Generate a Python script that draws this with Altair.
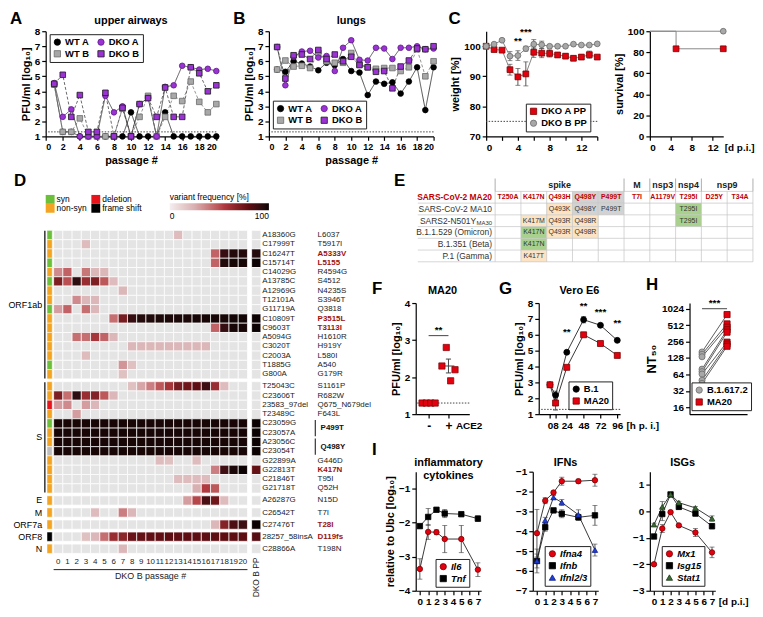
import altair as alt
import pandas as pd

FONT = "Liberation Sans"
PURPLE = "#9a32d4"
PURPLE_DK = "#5c1a85"
RED = "#e3000f"
RED_DK = "#7a0000"
GREY = "#a8a8a8"
GREY_DK = "#6b6b6b"
LOD = 1.3

# ---------------- A: upper airways ----------------
passage = list(range(1, 21))
ua_wt_a = [4.45, 1.3, 1.3, 1.0, 1.0, 1.0, 1.0, 1.0, 1.0, 2.6, 1.0, 1.0, 1.0, 2.6, 1.0, 1.0, 1.0, 1.0, 1.0, 1.0]
ua_wt_b = [4.45, 1.3, 1.3, 2.2, 1.0, 1.0, 1.0, 1.0, 2.85, 1.0, 2.3, 3.7, 1.0, 2.3, 3.7, 3.35, 4.65, 3.3, 2.6, 3.15]
ua_dko_a = [4.55, 2.3, 2.8, 1.0, 1.0, 1.0, 3.7, 2.6, 3.0, 1.0, 3.15, 3.55, 1.0, 4.3, 4.4, 5.7, 5.6, 5.45, 5.5, 5.35]
ua_dko_b = [4.5, 5.1, 2.3, 3.75, 1.3, 1.3, 3.9, 1.0, 2.9, 1.0, 3.15, 3.55, 2.3, 4.25, 2.3, 2.3, 5.6, 5.2, 4.0, 4.4]

# ---------------- B: lungs ----------------
lu_wt_a = [5.45, 5.3, 6.0, 5.85, 5.65, 5.4, 5.9, 5.75, 6.15, 5.35, 5.25, 3.75, 4.65, 4.5, 4.6, 3.85, 4.65, 5.6, 2.75, 5.6]
lu_wt_b = [5.45, 6.05, 5.65, 5.7, 5.55, 6.55, 6.0, 5.9, 5.9, 6.55, 5.8, 5.6, 5.5, 5.55, 5.55, 5.35, 5.6, 6.8, 5.0, 6.0]
lu_dko_a = [6.95, 4.4, 6.3, 6.65, 6.7, 6.25, 6.35, 5.35, 6.9, 7.4, 6.1, 6.05, 6.9, 6.85, 6.15, 6.9, 6.9, 7.0, 6.8, 6.85]
lu_dko_b = [6.95, 4.85, 6.4, 6.45, 6.15, 6.75, 6.15, 6.45, 6.0, 6.3, 5.75, 5.6, 5.3, 5.35, 4.2, 5.65, 6.05, 6.85, 6.8, 7.0]
pass_names = ["WT A", "WT B", "DKO A", "DKO B"]
pass_fill = ["#000000", GREY, PURPLE, PURPLE]
pass_stroke = ["#000000", GREY_DK, PURPLE_DK, "#1a1a1a"]
pass_shape = ["circle", "square", "circle", "square"]
pass_line = ["#222222", "#7a7a7a", "#333333", "#444444"]
pass_dash = [[1, 0], [3, 2], [1, 0], [3, 2]]

# ---------------- C: weight / survival ----------------
wt_days = list(range(0, 15))
w_dko_a = [100, 98.9, 98.7, 92.2, 89.8, 90.8, 98.0, 97.7, 97.6, 97.1, 96.7, 96.0, 96.4, 97.2, 96.4]
w_dko_a_sem = [0, 0.5, 0.5, 1.8, 2.8, 4.0, 1.7, 1.5, 1.2, 0.8, 0.8, 0.8, 0.8, 1.2, 0.6]
w_dko_b = [100, 100.7, 102.0, 96.7, 96.9, 99.2, 100.7, 100.5, 100.0, 100.0, 100.0, 100.7, 100.4, 100.4, 100.8]
w_dko_b_sem = [0, 0.4, 0.4, 1.5, 1.6, 0.8, 1.5, 1.2, 0.6, 0.6, 0.5, 0.5, 0.5, 0.5, 0.5]
w_names = ["DKO A PP", "DKO B PP"]
w_sig_day = [4, 5]
w_sig_text = ["**", "***"]
w_sig_y = [100.2, 103.0]
weight_limit = 75
surv_day_a = [0, 5, 14]
surv_a = [100, 83.3, 83.3]
surv_day_b = [0, 14]
surv_b = [100, 100]

# ---------------- D: heatmap ----------------
hm_gene = ["ORF1ab"] * 16 + ["S"] * 12 + ["E", "M", "ORF7a", "ORF8", "N"]
hm_nt = ["A18360G", "C17999T", "C16247T", "C15714T", "C14029G", "A13785C", "A12969G", "T12101A",
         "G11719A", "C10809T", "C9603T", "A5094G", "C3020T", "C2003A", "T1885G", "G800A",
         "T25043C", "C23606T", "23583_97del", "T23489C", "C23059G", "C23057A", "A23056C", "C23054T",
         "G22899A", "G22813T", "C21846T", "G21718T",
         "A26287G", "C26542T", "C27476T", "28257_58insA", "C28866A"]
hm_aa = ["L6037", "T5917I", "A5333V", "L5155", "R4594G", "S4512", "N4235S", "S3946T",
         "Q3818", "P3515L", "T3113I", "H1610R", "H919Y", "L580I", "A540", "G179R",
         "S1161P", "R682W", "Q675_N679del", "F643L", "P499T", "", "Q498Y", "",
         "G446D", "K417N", "T95I", "Q52H",
         "N15D", "T7I", "T28I", "D119fs", "T198N"]
hm_type = ["syn", "non-syn", "non-syn", "syn", "non-syn", "syn", "non-syn", "non-syn",
           "syn", "non-syn", "non-syn", "non-syn", "non-syn", "non-syn", "syn", "non-syn",
           "non-syn", "non-syn", "deletion", "non-syn", "syn", "non-syn", "non-syn", "other",
           "non-syn", "non-syn", "non-syn", "non-syn",
           "non-syn", "non-syn", "non-syn", "frame shift", "non-syn"]
hm_style = ["", "", "red", "red", "", "", "", "", "", "red", "red", "", "", "", "", "",
            "", "", "", "", "pair", "", "pair", "", "", "red", "", "",
            "", "", "red", "red", ""]
# 21 passages (0..20) + DKO B PP
hm_freq = [
    [0, 0, 0, 0, 0, 0, 0, 0, 0, 0, 0, 0, 0, 20, 0, 0, 0, 0, 0, 0, 0, 0],
    [0, 0, 0, 20, 0, 0, 0, 0, 0, 0, 0, 0, 0, 0, 0, 0, 0, 0, 0, 0, 0, 0],
    [0, 0, 0, 0, 0, 0, 0, 0, 0, 0, 0, 0, 0, 0, 0, 0, 0, 45, 90, 95, 95, 95],
    [0, 0, 0, 0, 0, 0, 0, 0, 0, 0, 0, 0, 0, 0, 0, 0, 0, 45, 95, 98, 98, 100],
    [35, 45, 0, 40, 22, 22, 0, 0, 0, 0, 0, 0, 0, 0, 0, 0, 0, 0, 0, 0, 0, 0],
    [70, 50, 92, 62, 70, 48, 20, 0, 0, 0, 0, 0, 0, 0, 0, 0, 0, 0, 0, 0, 0, 0],
    [0, 0, 0, 0, 0, 0, 0, 22, 0, 0, 0, 0, 0, 0, 0, 0, 0, 0, 0, 0, 0, 0],
    [0, 0, 35, 22, 22, 0, 0, 0, 0, 0, 0, 0, 0, 0, 0, 0, 0, 0, 0, 0, 0, 0],
    [30, 45, 0, 42, 22, 0, 0, 0, 0, 0, 0, 0, 0, 0, 0, 0, 0, 0, 0, 0, 0, 0],
    [0, 0, 0, 0, 0, 0, 42, 72, 90, 95, 96, 97, 97, 97, 97, 98, 98, 98, 98, 99, 99, 100],
    [0, 0, 0, 0, 0, 0, 0, 0, 0, 0, 0, 0, 0, 0, 0, 0, 0, 45, 90, 98, 98, 100],
    [0, 0, 42, 42, 58, 45, 22, 0, 0, 0, 0, 0, 0, 0, 0, 0, 0, 0, 0, 0, 0, 0],
    [0, 0, 0, 0, 0, 0, 0, 0, 22, 22, 22, 22, 22, 22, 22, 22, 22, 0, 0, 0, 0, 0],
    [0, 0, 0, 20, 0, 0, 0, 0, 0, 0, 0, 0, 0, 0, 0, 0, 0, 0, 0, 0, 0, 0],
    [0, 0, 0, 0, 0, 0, 0, 32, 18, 0, 0, 0, 0, 0, 0, 0, 0, 0, 0, 0, 0, 0],
    [0, 0, 0, 0, 0, 0, 0, 18, 0, 0, 0, 0, 0, 0, 0, 0, 0, 0, 0, 0, 0, 0],
    [0, 0, 0, 0, 0, 0, 0, 0, 18, 28, 38, 48, 58, 72, 75, 80, 88, 62, 20, 0, 0, 0],
    [70, 42, 92, 62, 68, 48, 22, 0, 0, 0, 0, 0, 0, 0, 0, 0, 0, 0, 0, 0, 0, 0],
    [30, 35, 0, 30, 22, 0, 0, 0, 0, 0, 0, 0, 0, 0, 0, 0, 0, 0, 0, 0, 0, 0],
    [0, 0, 30, 0, 0, 0, 0, 0, 0, 0, 0, 0, 0, 0, 0, 0, 0, 0, 0, 0, 0, 0],
    [98] * 21 + [100],
    [98] * 21 + [100],
    [98] * 21 + [100],
    [98] * 21 + [100],
    [0, 0, 0, 0, 0, 0, 0, 0, 0, 0, 0, 20, 18, 0, 0, 20, 0, 0, 0, 0, 0, 0],
    [0, 0, 0, 0, 0, 0, 0, 0, 0, 0, 0, 0, 0, 0, 0, 0, 0, 38, 88, 97, 100, 78],
    [0, 0, 0, 0, 0, 0, 0, 0, 0, 0, 0, 0, 0, 20, 20, 20, 20, 0, 0, 0, 0, 0],
    [0, 0, 0, 0, 0, 0, 0, 0, 0, 0, 0, 0, 0, 0, 0, 25, 55, 48, 0, 0, 0, 0],
    [0, 0, 0, 0, 0, 0, 0, 0, 0, 0, 0, 0, 0, 0, 30, 52, 85, 75, 20, 0, 0, 0],
    [0, 0, 0, 0, 20, 0, 0, 38, 22, 0, 0, 0, 0, 0, 0, 0, 0, 0, 0, 0, 0, 0],
    [0, 0, 0, 0, 0, 0, 0, 0, 0, 0, 0, 0, 0, 0, 0, 0, 0, 22, 68, 85, 88, 100],
    [0, 0, 0, 18, 22, 42, 62, 66, 76, 78, 79, 79, 80, 79, 80, 80, 80, 80, 80, 80, 80, 82],
    [0, 0, 0, 0, 0, 0, 0, 22, 0, 0, 0, 0, 0, 0, 0, 0, 0, 0, 0, 0, 0, 0],
]
hm_type_domain = ["syn", "non-syn", "deletion", "frame shift", "other"]
hm_type_range = ["#6cbf3a", "#f2a422", "#e8141b", "#000000", "#bdbdbd"]

# ---------------- E: table ----------------
e_muts = ["T250A", "K417N", "Q493H", "Q498Y", "P499T", "T7I", "A1179V", "T295I", "D25Y", "T34A"]
e_genes = ["spike", "M", "nsp3", "nsp4", "nsp9"]
e_gene_ncols = [5, 1, 1, 1, 2]
e_strains = ["SARS-CoV-2 MA20", "SARS-CoV-2 MA10", "SARS2-N501Y", "B.1.1.529 (Omicron)", "B.1.351 (Beta)", "P.1 (Gamma)"]
e_sub = ["", "", "MA30", "", "", ""]
e_ma10 = ["", "", "Q493K", "Q498Y", "P499T", "", "", "T295I", "", ""]
e_ma30 = ["", "K417M", "Q493R", "Q498R", "", "", "", "T295I", "", ""]
e_omicron = ["", "K417N", "Q493R", "Q498R", "", "", "", "", "", ""]
e_beta = ["", "K417N", "", "", "", "", "", "", "", ""]
e_gamma = ["", "K417T", "", "", "", "", "", "", "", ""]
e_ma20_bg = ["none", "none", "none", "grey", "grey", "none", "none", "none", "none", "none"]
e_ma10_bg = ["none", "none", "similar", "grey", "grey", "none", "none", "same", "none", "none"]
e_ma30_bg = ["none", "similar", "similar", "similar", "none", "none", "none", "same", "none", "none"]
e_omicron_bg = ["none", "same", "similar", "similar", "none", "none", "none", "none", "none", "none"]
e_beta_bg = ["none", "same", "none", "none", "none", "none", "none", "none", "none", "none"]
e_gamma_bg = ["none", "similar", "none", "none", "none", "none", "none", "none", "none", "none"]

# ---------------- F ----------------
f_groups = ["-", "+"]
f_minus = [1.3, 1.3, 1.3, 1.3]
f_plus = [2.3, 2.8, 1.9, 2.2]

# ---------------- G ----------------
g_hours = [0, 8, 24, 48, 72, 96]
g_b1 = [2.85, 2.2, 4.9, 6.95, 6.6, 5.65]
g_b1_sem = [0.1, 0.25, 0.1, 0.2, 0.05, 0.05]
g_ma20 = [2.85, 1.7, 3.95, 6.0, 5.45, 4.7]
g_ma20_sem = [0.1, 0.45, 0.1, 0.05, 0.05, 0.05]
g_sig_h = [24, 48, 72, 96]
g_sig_text = ["**", "**", "***", "**"]
g_sig_y = [5.85, 7.5, 7.1, 6.4]

# ---------------- H ----------------
h_delta = [165, 150, 135, 80, 72, 65, 50, 44]
h_ma20 = [800, 540, 470, 420, 380, 250, 230, 210]

# ---------------- I ----------------
i_days = [0, 1, 2, 3, 5, 7]
il6 = [-3.36, -2.27, -2.28, -2.48, -2.48, -3.38]
il6_sem = [0.3, 0.22, 0.07, 0.4, 0.4, 0.2]
tnf = [-2.1, -1.83, -1.62, -1.73, -1.75, -1.88]
tnf_sem = [0.06, 0.25, 0.05, 0.12, 0.04, 0.08]
ifna4 = [-4.1, -2.46, -2.05, -1.48, -1.48, -1.43]
ifna4_sem = [1.2, 0.15, 0.05, 0.2, 0.1, 0.3]
ifnb = [-5.5, -3.8, -2.95, -3.12, -3.3, -3.2]
ifnb_sem = [0.35, 0.2, 0.1, 0.2, 0.15, 0.5]
ifnl = [-5.5, -3.45, -2.3, -2.55, -3.17, -4.95]
ifnl_sem = [0.6, 0.15, 0.1, 0.15, 0.25, 0.3]
mx1 = [-2.0, -0.65, -0.03, -0.53, -0.8, -1.55]
mx1_sem = [0.05, 0.15, 0.05, 0.05, 0.15, 0.2]
isg15 = [-0.95, -0.1, 0.64, 0.17, -0.08, -0.56]
isg15_sem = [0.05, 0.25, 0.07, 0.1, 0.1, 0.1]
stat1 = [-0.5, 0.17, 0.64, 0.33, 0.13, -0.27]
stat1_sem = [0.05, 0.2, 0.05, 0.05, 0.05, 0.1]


# ================= helpers =================
def letter(ch, x, y, size=17):
    return alt.Chart(pd.DataFrame({"t": [ch]})).mark_text(
        fontSize=size, fontWeight="bold", align="left", baseline="top", color="black"
    ).encode(text="t:N", x=alt.value(x), y=alt.value(y))


def ttl(t, width, y=-5, size=11):
    txt = t if isinstance(t, str) else "\n".join(t)
    return alt.Chart(pd.DataFrame({"t": [txt]})).mark_text(
        fontSize=size, fontWeight="bold", align="center", baseline="bottom", lineBreak="\n",
        color="black").encode(text="t:N", x=alt.value(width / 2), y=alt.value(y))


def ind(c):
    return c.resolve_scale(color="independent", fill="independent", stroke="independent",
                           shape="independent", strokeDash="independent").resolve_legend(
        color="independent", fill="independent", stroke="independent", shape="independent",
        strokeDash="independent")


def sym_enc(field, domain, fills, strokes, shapes, legend):
    return dict(
        fill=alt.Fill(f"{field}:N", scale=alt.Scale(domain=domain, range=fills), legend=legend),
        stroke=alt.Stroke(f"{field}:N", scale=alt.Scale(domain=domain, range=strokes), legend=legend),
        shape=alt.Shape(f"{field}:N", scale=alt.Scale(domain=domain, range=shapes), legend=legend),
    )


def box_legend(x, y, columns=1, style="normal", size=9.5):
    return alt.Legend(title=None, orient="none", legendX=x, legendY=y, columns=columns,
                      strokeColor="#222", fillColor="white", padding=3, rowPadding=1,
                      columnPadding=6, symbolSize=40, labelFontSize=size, labelFontWeight="bold",
                      labelFontStyle=style, symbolStrokeWidth=0.8, labelOffset=3)


def err_layers(df, xf, yf, X, Yf, names, fills, strokes, shapes, leg, cap=6, psize=30, line_color="#222"):
    base = alt.Chart(df).transform_calculate(lo=f"datum.{yf} - datum.e", hi=f"datum.{yf} + datum.e")
    err = base.mark_rule(color="#444", strokeWidth=0.9).encode(x=X, y=Yf("lo"), y2="hi:Q")
    clo = base.mark_tick(orient="horizontal", size=cap, thickness=0.9, color="#444").encode(x=X, y=Yf("lo"))
    chi = base.mark_tick(orient="horizontal", size=cap, thickness=0.9, color="#444").encode(x=X, y=Yf("hi"))
    line = base.mark_line(color=line_color, strokeWidth=0.9).encode(x=X, y=Yf(yf), detail="series:N")
    pts = base.mark_point(filled=True, size=psize, strokeWidth=0.8, opacity=1).encode(
        x=X, y=Yf(yf), **sym_enc("series", names, fills, strokes, shapes, leg))
    return [err, clo, chi, line, pts]


ROW1_H = 106


# ================= A / B =================
def passage_panel(title_text, ch, vals, leg_y, width):
    rows = []
    for n, v in zip(pass_names, vals):
        for p, y in zip(passage, v):
            rows.append({"passage": p, "series": n, "pfu": y})
    df = pd.DataFrame(rows)
    xs = alt.X("passage:Q", scale=alt.Scale(domain=[0, 20], nice=False),
               axis=alt.Axis(values=list(range(0, 21, 2)), title="passage #", labelFontSize=9))
    ys = alt.Y("pfu:Q", scale=alt.Scale(domain=[1, 8], nice=False),
               axis=alt.Axis(values=list(range(1, 9)), title="PFU/ml [log₁₀]"))
    leg = box_legend(4, leg_y, columns=2)
    lod = alt.Chart(pd.DataFrame({"pfu": [LOD]})).mark_rule(
        color="#444", strokeDash=[1.5, 1.5], strokeWidth=1).encode(y=ys)
    base = alt.Chart(df)
    line_layers = []
    for n, col, dash in zip(pass_names, pass_line, pass_dash):
        line_layers.append(base.transform_filter(alt.datum.series == n).mark_line(
            strokeWidth=0.8, color=col, strokeDash=dash).encode(x=xs, y=ys))
    pts = base.mark_point(filled=True, size=32, strokeWidth=0.8, opacity=1).encode(
        x=xs, y=ys, **sym_enc("series", pass_names, pass_fill, pass_stroke, pass_shape, leg))
    return alt.layer(lod, *line_layers, pts, letter(ch, -36, -20), ttl(title_text, width)).properties(
        width=width, height=ROW1_H)


panel_a = passage_panel("upper airways", "A", [ua_wt_a, ua_wt_b, ua_dko_a, ua_dko_b], 3, 172)
panel_b = passage_panel("lungs", "B", [lu_wt_a, lu_wt_b, lu_dko_a, lu_dko_b], ROW1_H - 36, 166)

# ================= C =================
rows = []
for s, vals, sems in [(w_names[0], w_dko_a, w_dko_a_sem), (w_names[1], w_dko_b, w_dko_b_sem)]:
    for d, v, e in zip(wt_days, vals, sems):
        rows.append({"day": d, "series": s, "w": v, "e": e})
w_df = pd.DataFrame(rows)
CW_W = 112
w_xsc = alt.Scale(domain=[0, 14], nice=False)
w_ysc = alt.Scale(domain=[70, 105], nice=False)
w_xax = alt.Axis(values=list(range(0, 15, 2)), title=None)
w_yax = alt.Axis(values=[70, 80, 90, 100], title="weight [%]")
WX = alt.X("day:Q", scale=w_xsc, axis=w_xax)


def WY(f):
    return alt.Y(f"{f}:Q", scale=w_ysc, axis=w_yax)


w_lim = alt.Chart(pd.DataFrame({"w": [weight_limit]})).mark_rule(
    color="#444", strokeDash=[1.5, 1.5], strokeWidth=1).encode(y=WY("w"))
w_sig = alt.Chart(pd.DataFrame({"day": w_sig_day, "w": w_sig_y, "t": w_sig_text})).mark_text(
    fontSize=10, fontWeight="bold", baseline="bottom").encode(x=WX, y=WY("w"), text="t:N")
w_layers = err_layers(w_df, "day", "w", WX, WY, w_names, [RED, GREY], [RED_DK, GREY_DK],
                      ["square", "circle"], box_legend(CW_W - 72, ROW1_H - 33), cap=5, psize=34,
                      line_color="#777")
panel_cw = alt.layer(w_lim, *w_layers, w_sig, letter("C", -38, -20)).properties(width=CW_W, height=ROW1_H)

rows = []
for s, ds, vs in [(w_names[1], surv_day_b, surv_b), (w_names[0], surv_day_a, surv_a)]:
    for d, v in zip(ds, vs):
        rows.append({"day": d, "series": s, "surv": v})
s_df = pd.DataFrame(rows)
CS_W = 74
s_xsc = alt.Scale(domain=[0, 14], nice=False)
s_ysc = alt.Scale(domain=[0, 100], nice=False)
SX = alt.X("day:Q", scale=s_xsc, axis=alt.Axis(values=[0, 4, 8, 12], title="[d p.i.]", titleX=CS_W + 1,
                                               titleY=6, titleAlign="left", titleBaseline="top",
                                               titleFontSize=10))
SY = alt.Y("surv:Q", scale=s_ysc, axis=alt.Axis(values=[0, 20, 40, 60, 80, 100], title="survival [%]"))
s_line = alt.Chart(s_df).mark_line(interpolate="step-after", color="#888", strokeWidth=1).encode(
    x=SX, y=SY, detail="series:N")
s_pts = alt.Chart(s_df).transform_filter("datum.day > 0").mark_point(
    filled=True, size=34, strokeWidth=0.8, opacity=1).encode(
    x=SX, y=SY, **sym_enc("series", w_names, [RED, GREY], [RED_DK, GREY_DK], ["square", "circle"], None))
panel_cs = alt.layer(s_line, s_pts).properties(width=CS_W, height=ROW1_H)

row1 = ind(alt.hconcat(panel_a, panel_b, panel_cw, panel_cs, spacing=53, bounds="flush"))

# ================= D: heatmap =================
gap = 0.3
row_y = []
cur = 0.0
prev = None
for g in hm_gene:
    if prev is not None and g != prev:
        cur += gap
    row_y.append(cur)
    cur += 1
    prev = g
y_end = cur

cells = []
for i in range(len(hm_nt)):
    for c, f in enumerate(hm_freq[i]):
        x0 = c if c < 21 else 21.45
        cells.append({"x0": x0, "x1": x0 + 1, "y0": row_y[i], "y1": row_y[i] + 1, "freq": f})
cdf = pd.DataFrame(cells)

D_W, D_H = 329, 436
d_sx = alt.Scale(domain=[-0.86, 34.5], nice=False, zero=False)
d_sy = alt.Scale(domain=[-6.6, 40.0], nice=False, zero=False, reverse=True)


def DX(f):
    return alt.X(f"{f}:Q", scale=d_sx, axis=None)


def DY(f):
    return alt.Y(f"{f}:Q", scale=d_sy, axis=None)


freq_scale = alt.Scale(domain=[0, 25, 55, 80, 100],
                       range=["#f4eeee", "#d8b0b2", "#b03a40", "#5e0d12", "#0d0203"])
heat = alt.Chart(cdf).mark_rect(stroke="white", strokeWidth=0.7).encode(
    x=DX("x0"), x2="x1:Q", y=DY("y0"), y2="y1:Q",
    color=alt.condition("datum.freq == 0", alt.value("#e4e4e4"),
                        alt.Color("freq:Q", scale=freq_scale,
                                  legend=alt.Legend(title="variant frequency [%]", orient="none",
                                                    direction="horizontal", legendX=125, legendY=24,
                                                    gradientLength=100, gradientThickness=7,
                                                    values=[0, 100], titleFontSize=8.5,
                                                    titleFontWeight="normal", labelFontSize=8.5,
                                                    labelFontWeight="normal", titlePadding=2))))

strip_df = pd.DataFrame({"x0": [-0.72] * len(hm_nt), "x1": [-0.15] * len(hm_nt),
                         "y0": row_y, "y1": [y + 1 for y in row_y], "type": hm_type})
strip = alt.Chart(strip_df).mark_rect(stroke="white", strokeWidth=0.5).encode(
    x=DX("x0"), x2="x1:Q", y=DY("y0"), y2="y1:Q",
    color=alt.Color("type:N", scale=alt.Scale(domain=hm_type_domain, range=hm_type_range),
                    legend=alt.Legend(title=None, orient="none", legendX=0, legendY=26, columns=2,
                                      symbolType="square", symbolSize=80, symbolStrokeWidth=0,
                                      labelFontSize=8.5, labelFontWeight="normal",
                                      values=["syn", "non-syn", "deletion", "frame shift"],
                                      columnPadding=4, rowPadding=0, labelOffset=2)))

genes_seen = []
for g in hm_gene:
    if g not in genes_seen:
        genes_seen.append(g)
grp = []
for g in genes_seen:
    idx = [i for i, gg in enumerate(hm_gene) if gg == g]
    y0 = row_y[idx[0]]
    y1 = row_y[idx[-1]] + 1
    grp.append({"gene": g, "ym": (y0 + y1) / 2, "y0": y0 + 0.05, "y1": y1 - 0.05, "n": len(idx), "x": -1.25, "xb": -0.95})
grp_df = pd.DataFrame(grp)
gene_txt = alt.Chart(grp_df).mark_text(align="right", baseline="middle", fontSize=9).encode(
    x=DX("x"), y=DY("ym"), text="gene:N")
gene_bar = alt.Chart(grp_df).transform_filter("datum.n > 1").mark_rule(color="black", strokeWidth=1.2).encode(
    x=DX("xb"), y=DY("y0"), y2="y1:Q")

lab_df = pd.DataFrame({"nt": hm_nt, "aa": hm_aa, "style": hm_style,
                       "y": [y + 0.5 for y in row_y], "ypair": [y + 1.0 for y in row_y],
                       "yp0": [y + 0.12 for y in row_y], "yp1": [y + 1.88 for y in row_y],
                       "xn": [22.6] * len(hm_nt), "xa": [28.6] * len(hm_nt), "xb": [28.35] * len(hm_nt)})
nt_txt = alt.Chart(lab_df).mark_text(align="left", baseline="middle", fontSize=8, color="#222").encode(
    x=DX("xn"), y=DY("y"), text="nt:N")
aa_txt = alt.Chart(lab_df).transform_filter("datum.style == ''").mark_text(
    align="left", baseline="middle", fontSize=8, color="#222").encode(x=DX("xa"), y=DY("y"), text="aa:N")
aa_red = alt.Chart(lab_df).transform_filter("datum.style == 'red'").mark_text(
    align="left", baseline="middle", fontSize=8, fontWeight="bold", color="#9b1111").encode(
    x=DX("xa"), y=DY("y"), text="aa:N")
aa_pair = alt.Chart(lab_df).transform_filter("datum.style == 'pair'").mark_text(
    align="left", baseline="middle", fontSize=8, fontWeight="bold", color="#111", dx=3).encode(
    x=DX("xa"), y=DY("ypair"), text="aa:N")
aa_bar = alt.Chart(lab_df).transform_filter("datum.style == 'pair'").mark_rule(
    color="#333", strokeWidth=1.2).encode(x=DX("xb"), y=DY("yp0"), y2="yp1:Q")

col_df = pd.DataFrame({"x": [c + 0.5 for c in range(21)], "t": [str(c) for c in range(21)],
                       "y": [y_end + 0.55] * 21})
col_txt = alt.Chart(col_df).mark_text(baseline="top", fontSize=8, color="#222").encode(
    x=DX("x"), y=DY("y"), text="t:N")
ax_df = pd.DataFrame({"x0": [0.0], "x1": [21.0], "xm": [10.5], "yr": [y_end + 1.75], "yt": [y_end + 2.0],
                      "t": ["DKO B passage #"], "xp": [21.95], "yp": [y_end + 0.45], "tp": ["DKO B PP"]})
ax_rule = alt.Chart(ax_df).mark_rule(color="#222", strokeWidth=1).encode(x=DX("x0"), x2="x1:Q", y=DY("yr"))
ax_txt = alt.Chart(ax_df).mark_text(baseline="top", fontSize=9, color="#222").encode(
    x=DX("xm"), y=DY("yt"), text="t:N")
pp_txt = alt.Chart(ax_df).mark_text(align="right", baseline="middle", angle=270, fontSize=8.5, color="#222").encode(
    x=DX("xp"), y=DY("yp"), text="tp:N")

panel_d = alt.layer(heat, strip, gene_bar, gene_txt, nt_txt, aa_txt, aa_red, aa_pair, aa_bar,
                    col_txt, ax_rule, ax_txt, pp_txt, letter("D", -32, 4)).resolve_scale(
    color="independent").properties(width=D_W, height=D_H)

# ================= E: table =================
E_W, E_H = 342, 94
e_sx = alt.Scale(domain=[-3.08, 10.08], nice=False, zero=False)
e_sy = alt.Scale(domain=[-2.4, 5.55], nice=False, zero=False, reverse=True)


def EX(f):
    return alt.X(f"{f}:Q", scale=e_sx, axis=None)


def EY(f):
    return alt.Y(f"{f}:Q", scale=e_sy, axis=None)


e_vals = [e_muts, e_ma10, e_ma30, e_omicron, e_beta, e_gamma]
e_bgs = [e_ma20_bg, e_ma10_bg, e_ma30_bg, e_omicron_bg, e_beta_bg, e_gamma_bg]
cells = []
for r, (vals, bgs) in enumerate(zip(e_vals, e_bgs)):
    for c in range(10):
        cells.append({"c0": c, "c1": c + 1, "cx": c + 0.5, "r": r, "r0": r - 0.5, "r1": r + 0.5,
                      "txt": vals[c], "bg": bgs[c], "head": r == 0})
e_df = pd.DataFrame(cells)
e_bg = alt.Chart(e_df).transform_filter("datum.bg != 'none'").mark_rect().encode(
    x=EX("c0"), x2="c1:Q", y=EY("r0"), y2="r1:Q",
    color=alt.Color("bg:N", scale=alt.Scale(domain=["similar", "same", "grey"],
                                            range=["#fbe3c3", "#a9d18e", "#d2d2d2"]), legend=None))
e_txt = alt.Chart(e_df).transform_filter("!datum.head").mark_text(fontSize=7, color="#333").encode(
    x=EX("cx"), y=EY("r"), text="txt:N")
e_head = alt.Chart(e_df).transform_filter("datum.head").mark_text(fontSize=7, fontWeight="bold", color="#c00000").encode(
    x=EX("cx"), y=EY("r"), text="txt:N")

gstart = []
acc = 0
for n in e_gene_ncols:
    gstart.append(acc)
    acc += n
g_df = pd.DataFrame({"gene": e_genes, "xm": [s + n / 2 for s, n in zip(gstart, e_gene_ncols)],
                     "y": [-1.05] * len(e_genes)})
e_gtxt = alt.Chart(g_df).mark_text(fontSize=9, fontWeight="bold", color="#222").encode(
    x=EX("xm"), y=EY("y"), text="gene:N")
e_gsep = alt.Chart(pd.DataFrame({"x": gstart + [acc], "ya": [-1.6] * (len(gstart) + 1),
                                 "yb": [-0.5] * (len(gstart) + 1)})).mark_rule(
    color="#999", strokeWidth=0.8).encode(x=EX("x"), y=EY("ya"), y2="yb:Q")
vlines = pd.DataFrame({"x": list(range(0, 11)), "ya": [-0.5] * 11, "yb": [5.5] * 11})
e_vl = alt.Chart(vlines).mark_rule(color="#c4c4c4", strokeWidth=0.7).encode(x=EX("x"), y=EY("ya"), y2="yb:Q")
hl = pd.DataFrame({"y": [-0.5] + [r + 0.5 for r in range(6)],
                   "xa": [0] + [-3.0] * 6, "xb": [10] * 7})
e_hl = alt.Chart(hl).mark_rule(color="#c4c4c4", strokeWidth=0.7).encode(x=EX("xa"), x2="xb:Q", y=EY("y"))
s_rows = pd.DataFrame({"name": e_strains, "sub": e_sub, "r": list(range(6)), "x": [-0.12] * 6,
                       "ys": [r + 0.22 for r in range(6)]})
e_names = alt.Chart(s_rows).transform_filter("datum.r > 0 && datum.sub == ''").mark_text(
    align="right", fontSize=8.5, color="#333").encode(x=EX("x"), y=EY("r"), text="name:N")
e_name_h = alt.Chart(s_rows).transform_filter("datum.r == 0").mark_text(
    align="right", fontSize=8.5, fontWeight="bold", color="#c00000").encode(x=EX("x"), y=EY("r"), text="name:N")
e_name_s = alt.Chart(s_rows).transform_filter("datum.sub != ''").mark_text(
    align="right", fontSize=8.5, color="#333", dx=-16).encode(x=EX("x"), y=EY("r"), text="name:N")
e_name_sub = alt.Chart(s_rows).transform_filter("datum.sub != ''").mark_text(
    align="right", fontSize=6, color="#333").encode(x=EX("x"), y=EY("ys"), text="sub:N")
panel_e = alt.layer(e_bg, e_vl, e_hl, e_gsep, e_gtxt, e_txt, e_head, e_names, e_name_h, e_name_s,
                    e_name_sub, letter("E", -22, 4)).properties(width=E_W, height=E_H)

# ================= F =================
rows = []
for g, vals in enumerate([f_minus, f_plus]):
    for i, v in enumerate(vals):
        rows.append({"g": g, "i": i, "v": v, "grp": f_groups[g]})
f_df = pd.DataFrame(rows)
F_W, FGH_H = 54, 112
f_xsc = alt.Scale(domain=[-0.65, 2.05], nice=False, zero=False)
f_ysc = alt.Scale(domain=[1, 4], nice=False)
f_xax = alt.Axis(values=[0, 1], labelExpr="datum.value == 0 ? '-' : '+'", title="ACE2", titleX=40,
                 titleY=6, titleAlign="left", titleBaseline="top", labelFontSize=12, titleFontSize=10)
f_yax = alt.Axis(values=[1, 2, 3, 4], title="PFU/ml [log₁₀]")


def FX(f):
    return alt.X(f"{f}:Q", scale=f_xsc, axis=f_xax)


def FY(f):
    return alt.Y(f"{f}:Q", scale=f_ysc, axis=f_yax)


f_lod = alt.Chart(pd.DataFrame({"v": [LOD]})).mark_rule(color="#444", strokeDash=[1.5, 1.5]).encode(y=FY("v"))
f_agg = alt.Chart(f_df).transform_aggregate(m="mean(v)", s="stderr(v)", groupby=["g"]).transform_filter(
    "datum.s > 0").transform_calculate(lo="datum.m - datum.s", hi="datum.m + datum.s",
                                       ml="datum.g - 0.3", mr="datum.g + 0.3",
                                       cl="datum.g - 0.13", cr="datum.g + 0.13")
f_mean = f_agg.mark_rule(color="#444", strokeWidth=1).encode(x=FX("ml"), x2="mr:Q", y=FY("m"))
f_err = f_agg.mark_rule(color="#444", strokeWidth=1).encode(x=FX("g"), y=FY("lo"), y2="hi:Q")
f_clo = f_agg.mark_rule(color="#444", strokeWidth=1).encode(x=FX("cl"), x2="cr:Q", y=FY("lo"))
f_chi = f_agg.mark_rule(color="#444", strokeWidth=1).encode(x=FX("cl"), x2="cr:Q", y=FY("hi"))
f_pts = alt.Chart(f_df).transform_calculate(xp="datum.g + (datum.i - 1.5) * 0.22").mark_square(
    size=40, color=RED, stroke=RED_DK, strokeWidth=0.7, opacity=1).encode(x=FX("xp"), y=FY("v"))
f_sig = alt.Chart(pd.DataFrame({"a": [0], "b": [1], "m": [0.5], "y": [3.12], "t": ["**"]}))
f_br = f_sig.mark_rule(color="#444").encode(x=FX("a"), x2="b:Q", y=FY("y"))
f_st = f_sig.mark_text(fontSize=10, fontWeight="bold", baseline="bottom", dy=-1).encode(x=FX("m"), y=FY("y"), text="t:N")
panel_f = alt.layer(f_lod, f_mean, f_err, f_clo, f_chi, f_pts, f_br, f_st, letter("F", -44, -22),
                    ttl("MA20", F_W, y=-7)).properties(width=F_W, height=FGH_H)

# ================= G =================
G_W = 82
rows = []
for s, vals, sems in [("B.1", g_b1, g_b1_sem), ("MA20", g_ma20, g_ma20_sem)]:
    for h, v, e in zip(g_hours, vals, sems):
        rows.append({"h": h, "series": s, "v": v, "e": e})
g_df = pd.DataFrame(rows)
g_xsc = alt.Scale(domain=[-16, 100], nice=False, zero=False)
g_ysc = alt.Scale(domain=[1, 8], nice=False)
g_xax = alt.Axis(values=g_hours, title="[h p. i.]", titleX=G_W + 6, titleY=6, titleAlign="left",
                 titleBaseline="top", titleFontSize=10, labelOverlap=False, labelBound=False)
g_yax = alt.Axis(values=list(range(1, 9)), title="PFU/ml [log₁₀]")
GX = alt.X("h:Q", scale=g_xsc, axis=g_xax)


def GY(f):
    return alt.Y(f"{f}:Q", scale=g_ysc, axis=g_yax)


g_lod = alt.Chart(pd.DataFrame({"v": [LOD]})).mark_rule(color="#444", strokeDash=[1.5, 1.5]).encode(y=GY("v"))
g_layers = err_layers(g_df, "h", "v", GX, GY, ["B.1", "MA20"], ["#000000", RED], ["#000000", RED_DK],
                      ["circle", "square"], box_legend(G_W - 52, FGH_H - 33), cap=5, psize=36)
g_sig = alt.Chart(pd.DataFrame({"h": g_sig_h, "v": g_sig_y, "t": g_sig_text})).mark_text(
    fontSize=10, fontWeight="bold", baseline="bottom").encode(x=GX, y=GY("v"), text="t:N")
panel_g = alt.layer(g_lod, *g_layers, g_sig, letter("G", -40, -22), ttl("Vero E6", G_W, y=-7)).properties(
    width=G_W, height=FGH_H)

# ================= H =================
H_W = 58
rows = []
for k, (a, b) in enumerate(zip(h_delta, h_ma20)):
    rows.append({"pair": k, "x": 0, "nt": a, "strain": "B.1.617.2"})
    rows.append({"pair": k, "x": 1, "nt": b, "strain": "MA20"})
h_df = pd.DataFrame(rows)
h_xsc = alt.Scale(domain=[-0.5, 1.8], nice=False, zero=False)
h_ysc = alt.Scale(type="log", base=2, domain=[12, 1300], nice=False)
h_yax = alt.Axis(values=[16, 32, 64, 128, 256, 512, 1024], format="d", title="NT₅₀", titleFontSize=13)
h_xax = alt.Axis(values=[], labels=False, ticks=False, title=None)
HX = alt.X("x:Q", scale=h_xsc, axis=h_xax)


def HY(f):
    return alt.Y(f"{f}:Q", scale=h_ysc, axis=h_yax)


h_lines = alt.Chart(h_df).mark_line(color="#333", strokeWidth=0.8).encode(x=HX, y=HY("nt"), detail="pair:N")
h_pts = alt.Chart(h_df).mark_point(filled=True, size=38, strokeWidth=0.8, opacity=1).encode(
    x=HX, y=HY("nt"), **sym_enc("strain", ["B.1.617.2", "MA20"], [GREY, RED], [GREY_DK, RED_DK],
                                ["circle", "square"], box_legend(2, FGH_H - 32)))
h_sig = alt.Chart(pd.DataFrame({"x": [0], "x2": [1], "m": [0.5], "nt": [1024], "t": ["***"]}))
h_br = h_sig.mark_rule(color="#444").encode(x=HX, x2="x2:Q", y=HY("nt"))
h_st = h_sig.mark_text(fontSize=10, fontWeight="bold", baseline="bottom", dy=-1).encode(
    x=alt.X("m:Q", scale=h_xsc, axis=h_xax), y=HY("nt"), text="t:N")
panel_h = alt.layer(h_lines, h_pts, h_br, h_st, letter("H", -44, -26)).properties(width=H_W, height=FGH_H)

row_fgh = ind(alt.hconcat(panel_f, panel_g, panel_h, spacing=70, bounds="flush"))


# ================= I =================
I_W, I_H = 66, 120


def i_panel(title_text, series, y_dom, y_vals, y_title, leg, last=False, ch=None):
    rows = []
    names, fills, strokes, shapes = [], [], [], []
    for n, vals, sems, fl, st, sh in series:
        names.append(n)
        fills.append(fl)
        strokes.append(st)
        shapes.append(sh)
        for d, v, e in zip(i_days, vals, sems):
            rows.append({"d": d, "series": n, "v": v, "e": e})
    df = pd.DataFrame(rows)
    xkw = dict(values=list(range(0, 8)), labelFontSize=10)
    if last:
        xkw.update(title="[d p.i.]", titleX=I_W + 3, titleY=6, titleAlign="left", titleBaseline="top",
                   titleFontSize=10)
    else:
        xkw.update(title=None)
    X = alt.X("d:Q", scale=alt.Scale(domain=[-0.5, 7.4], nice=False, zero=False), axis=alt.Axis(**xkw))
    yax = alt.Axis(values=y_vals, title=y_title)
    ysc = alt.Scale(domain=y_dom, nice=False, zero=False)

    def Y(f):
        return alt.Y(f"{f}:Q", scale=ysc, axis=yax)

    layers = err_layers(df, "d", "v", X, Y, names, fills, strokes, shapes, leg, cap=5, psize=30)
    layers.append(ttl(title_text, I_W, y=-4))
    if ch:
        layers.append(letter(ch, -44, -30))
    return alt.layer(*layers).properties(width=I_W, height=I_H)


panel_i1 = i_panel(["inflammatory", "cytokines"],
                   [("Il6", il6, il6_sem, RED, RED_DK, "circle"),
                    ("Tnf", tnf, tnf_sem, "#000000", "#000000", "square")],
                   [-4, -0.5], [-4, -3, -2, -1], "relative to Ubc [log₁₀]",
                   box_legend(I_W - 46, I_H - 32, style="italic"), ch="I")
panel_i2 = i_panel("IFNs",
                   [("Ifna4", ifna4, ifna4_sem, RED, RED_DK, "circle"),
                    ("Ifnb", ifnb, ifnb_sem, "#000000", "#000000", "square"),
                    ("Ifnl2/3", ifnl, ifnl_sem, "#1f3fd6", "#10208a", "triangle-up")],
                   [-7, -1], [-7, -6, -5, -4, -3, -2, -1], None,
                   box_legend(I_W - 54, I_H - 45, style="italic"))
panel_i3 = i_panel("ISGs",
                   [("Mx1", mx1, mx1_sem, RED, RED_DK, "circle"),
                    ("Isg15", isg15, isg15_sem, "#000000", "#000000", "square"),
                    ("Stat1", stat1, stat1_sem, "#3d6b35", "#1e3a1a", "triangle-up")],
                   [-3, 1.5], [-3, -2, -1, 0, 1], None,
                   box_legend(I_W - 54, I_H - 45, style="italic"), last=True)
row_i = ind(alt.hconcat(panel_i1, panel_i2, panel_i3, spacing=52, bounds="flush"))

right_col = ind(alt.vconcat(panel_e, ind(alt.vconcat(row_fgh, row_i, spacing=10)), spacing=14))
row2 = ind(alt.hconcat(panel_d, right_col, spacing=0))

chart = ind(alt.vconcat(row1, row2, spacing=4)).properties(padding=0).configure(
    font=FONT).configure_view(stroke=None).configure_axis(
    grid=False, domainColor="black", tickColor="black", labelColor="black", titleColor="black",
    labelFontSize=10, labelFontWeight="bold", titleFontSize=11, titleFontWeight="bold",
    tickSize=4, labelPadding=2, titlePadding=3, domainWidth=1.2, tickWidth=1.2).configure_legend(
    labelColor="black", titleColor="black").configure_title(color="black")

chart.save("out.html", embed_options={"renderer": "svg", "actions": False})
